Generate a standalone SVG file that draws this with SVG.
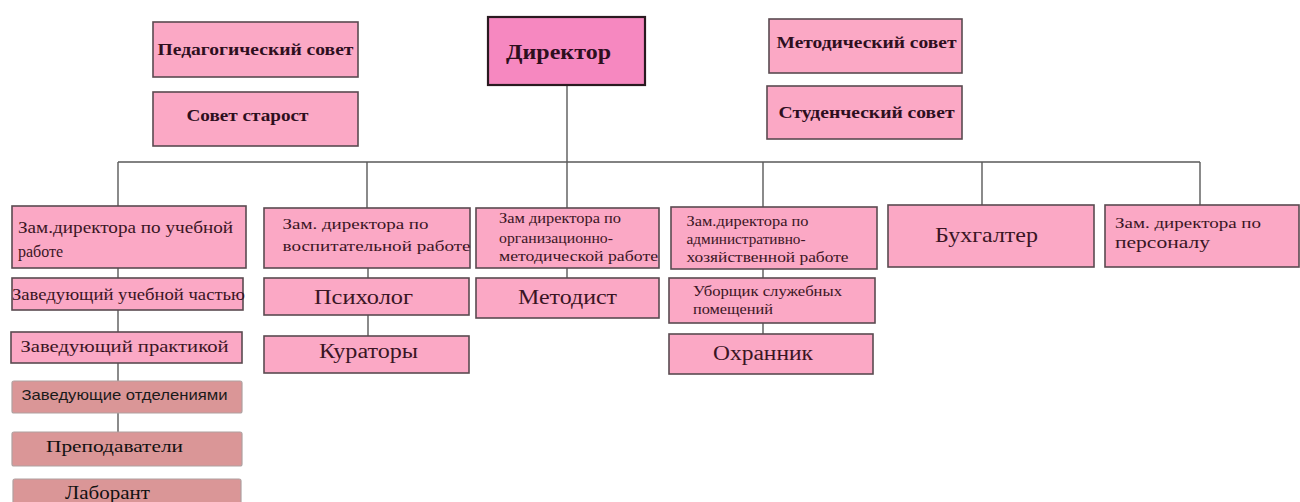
<svg xmlns="http://www.w3.org/2000/svg" width="1300" height="502" viewBox="0 0 1300 502">
<style>
.box{fill:#fba8c5;stroke:#5a4a50;stroke-width:1.6}
.dir{fill:#f688c0;stroke:#2a1a20;stroke-width:2.2}
.low{fill:#da9697;stroke:#b0a0a0;stroke-width:1.2}
.con{stroke:#5a5a5a;stroke-width:1.4;fill:none}
.tb{font-family:"Liberation Serif","Times New Roman",serif;font-weight:bold;fill:#2e0f1e}
.t{font-family:"Liberation Serif","Times New Roman",serif;fill:#3a1524}
.ts{font-family:"Liberation Sans",Arial,sans-serif;fill:#1a1a1a}
.tk{font-family:"Liberation Serif","Times New Roman",serif;fill:#111}
</style>
<rect width="1300" height="502" fill="#ffffff"/>
<g id="connectors">
<path class="con" d="M567 85V162M118 162H1200M118 162V206M367 162V208M567 162V208M763 162V207M982 162V205M1200 162V205"/>
<path class="con" d="M118 268V278M118 310V332M118 363V381M118 413V432"/>
<path class="con" d="M368 268V278M368 315V336"/>
<path class="con" d="M567 268V278"/>
<path class="con" d="M763 269V278M763 323V334"/>
</g>
<g id="ped-sovet"><rect class="box" x="153" y="22" width="205" height="55"/><text class="tb" x="157.5" y="55" font-size="16" textLength="196" lengthAdjust="spacingAndGlyphs">Педагогический совет</text></g>
<g id="sovet-starost"><rect class="box" x="153" y="92" width="205" height="54"/><text class="tb" x="186.5" y="121" font-size="16" textLength="122" lengthAdjust="spacingAndGlyphs">Совет старост</text></g>
<g id="director"><rect class="dir" x="488" y="17" width="157" height="68"/><text class="tb" x="506" y="59" font-size="22" textLength="105" lengthAdjust="spacingAndGlyphs">Директор</text></g>
<g id="metod-sovet"><rect class="box" x="769" y="19" width="193" height="54"/><text class="tb" x="776.5" y="48" font-size="16" textLength="180" lengthAdjust="spacingAndGlyphs">Методический совет</text></g>
<g id="stud-sovet"><rect class="box" x="767" y="86" width="195" height="53"/><text class="tb" x="778.5" y="118" font-size="16" textLength="176" lengthAdjust="spacingAndGlyphs">Студенческий совет</text></g>

<g id="zam-ucheb"><rect class="box" x="12" y="206" width="234" height="62"/><text class="t" x="18" y="233" font-size="16" textLength="215" lengthAdjust="spacingAndGlyphs">Зам.директора по учебной</text><text class="t" x="18" y="257" font-size="16">работе</text></g>
<g id="zav-uch-chast"><rect class="box" x="12" y="278" width="231" height="32"/><text class="t" x="12" y="300" font-size="16" textLength="233" lengthAdjust="spacingAndGlyphs">Заведующий учебной частью</text></g>
<g id="zav-praktikoy"><rect class="box" x="11" y="332" width="231" height="31"/><text class="t" x="20.5" y="352" font-size="17" textLength="208" lengthAdjust="spacingAndGlyphs">Заведующий практикой</text></g>
<g id="zav-otdel"><rect class="low" x="12" y="381" width="230" height="32" rx="2"/><text class="ts" x="21.5" y="400" font-size="15" textLength="206" lengthAdjust="spacingAndGlyphs">Заведующие отделениями</text></g>
<g id="prepod"><rect class="low" x="12" y="432" width="230" height="34" rx="2"/><text class="tk" x="46" y="452" font-size="17" textLength="137" lengthAdjust="spacingAndGlyphs">Преподаватели</text></g>
<g id="laborant"><rect class="low" x="13" y="479" width="228" height="30" rx="2"/><text class="tk" x="65" y="499" font-size="18" textLength="85" lengthAdjust="spacingAndGlyphs">Лаборант</text></g>

<g id="zam-vosp"><rect class="box" x="264" y="208" width="206" height="60"/><text class="t" x="282.5" y="229" font-size="15" textLength="146" lengthAdjust="spacingAndGlyphs">Зам. директора по</text><text class="t" x="282.5" y="251" font-size="15" textLength="188" lengthAdjust="spacingAndGlyphs">воспитательной работе</text></g>
<g id="psiholog"><rect class="box" x="264" y="278" width="205" height="37"/><text class="t" x="314" y="304" font-size="20" textLength="99" lengthAdjust="spacingAndGlyphs">Психолог</text></g>
<g id="kuratory"><rect class="box" x="264" y="336" width="205" height="37"/><text class="t" x="319" y="358" font-size="20" textLength="99" lengthAdjust="spacingAndGlyphs">Кураторы</text></g>

<g id="zam-org"><rect class="box" x="476" y="208" width="183" height="60"/><text class="t" x="499" y="223" font-size="14" textLength="122" lengthAdjust="spacingAndGlyphs">Зам директора по</text><text class="t" x="499" y="243" font-size="14" textLength="114" lengthAdjust="spacingAndGlyphs">организационно-</text><text class="t" x="499" y="261" font-size="14" textLength="159" lengthAdjust="spacingAndGlyphs">методической работе</text></g>
<g id="metodist"><rect class="box" x="476" y="278" width="183" height="40"/><text class="t" x="518" y="304" font-size="20" textLength="99" lengthAdjust="spacingAndGlyphs">Методист</text></g>

<g id="zam-admin"><rect class="box" x="671" y="207" width="206" height="62"/><text class="t" x="686.5" y="226" font-size="14" textLength="122" lengthAdjust="spacingAndGlyphs">Зам.директора по</text><text class="t" x="686.5" y="244" font-size="14" textLength="119" lengthAdjust="spacingAndGlyphs">административно-</text><text class="t" x="686.5" y="262" font-size="14" textLength="162" lengthAdjust="spacingAndGlyphs">хозяйственной работе</text></g>
<g id="uborshik"><rect class="box" x="669" y="278" width="206" height="45"/><text class="t" x="693" y="296" font-size="14" textLength="149" lengthAdjust="spacingAndGlyphs">Уборщик служебных</text><text class="t" x="693" y="314" font-size="14" textLength="80" lengthAdjust="spacingAndGlyphs">помещений</text></g>
<g id="ohrannik"><rect class="box" x="669" y="334" width="204" height="40"/><text class="t" x="713" y="360" font-size="20" textLength="100" lengthAdjust="spacingAndGlyphs">Охранник</text></g>

<g id="buhgalter"><rect class="box" x="888" y="205" width="206" height="62"/><text class="t" x="935" y="242" font-size="21" textLength="103" lengthAdjust="spacingAndGlyphs">Бухгалтер</text></g>
<g id="zam-personal"><rect class="box" x="1105" y="205" width="194" height="62"/><text class="t" x="1115" y="228" font-size="15" textLength="146" lengthAdjust="spacingAndGlyphs">Зам. директора по</text><text class="t" x="1115" y="248" font-size="16" textLength="95" lengthAdjust="spacingAndGlyphs">персоналу</text></g>
</svg>
